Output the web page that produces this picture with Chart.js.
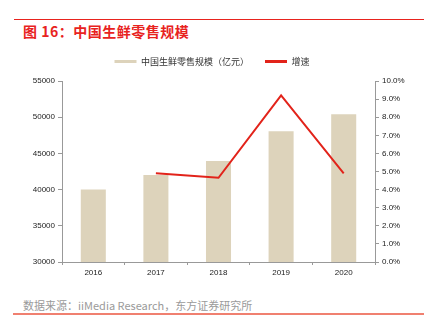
<!DOCTYPE html>
<html>
<head>
<meta charset="utf-8">
<script src="https://cdn.jsdelivr.net/npm/chart.js@4/dist/chart.umd.min.js"></script>
<style>
  body { margin: 0; width: 424px; height: 327px; background: #fff; position: relative; overflow: hidden;
         font-family: "Liberation Sans", "Noto Sans CJK SC", sans-serif; }
  #topline { position: absolute; left: 14px; top: 19px; width: 410px; height: 1px; background: #E8231E; }
  #title { position: absolute; left: 23px; top: 21px; font-size: 14px; font-weight: bold; color: #E8231E;
           font-family: "Noto Sans CJK SC", sans-serif; letter-spacing: 0.5px; }
  #source { position: absolute; left: 23px; top: 297px; font-size: 11px; color: #9a9a9a;
            font-family: "Noto Sans CJK SC", sans-serif; }
  #bottomline { position: absolute; left: 13px; top: 313px; width: 411px; height: 1.5px; background: #F08070; }
  #wrap { position: absolute; left: 0; top: 41px; width: 424px; height: 241px; }
</style>
</head>
<body>
<div id="topline"></div>
<div id="title">图 16：中国生鲜零售规模</div>
<div id="wrap"><canvas id="chart"></canvas></div>
<div id="source">数据来源：iiMedia Research，东方证券研究所</div>
<div id="bottomline"></div>
<script>
const years = ['2016', '2017', '2018', '2019', '2020'];
const retailScale = [40000, 42000, 43950, 48050, 50400];   // 亿元
const growthRate = [null, 4.9, 4.65, 9.2, 4.9];             // %
const leftTicks = [30000, 35000, 40000, 45000, 50000, 55000];

const tickFont = { family: 'Liberation Sans', size: 8 };

// extra room under the legend
const legendGap = {
  id: 'legendGap',
  beforeInit(chart) {
    const fit = chart.legend.fit;
    chart.legend.fit = function () { fit.call(this); this.height += 5; };
  }
};

new Chart(document.getElementById('chart'), {
  data: {
    labels: years,
    datasets: [
      {
        type: 'line',
        label: '增速',
        data: growthRate,
        yAxisID: 'yR',
        borderColor: '#E2231A',
        backgroundColor: '#E2231A',
        borderWidth: 2,
        pointRadius: 0,
        tension: 0,
        order: 0
      },
      {
        type: 'bar',
        label: '中国生鲜零售规模（亿元）',
        data: retailScale,
        yAxisID: 'yL',
        backgroundColor: '#DDD3BB',
        barPercentage: 0.4,
        categoryPercentage: 1,
        order: 1
      }
    ]
  },
  plugins: [legendGap],
  options: {
    responsive: true,
    maintainAspectRatio: false,
    animation: false,
    plugins: {
      tooltip: { enabled: false },
      legend: {
        position: 'top',
        reverse: true,
        labels: {
          font: { family: 'Noto Sans CJK SC', size: 9 },
          color: '#333',
          boxWidth: 22,
          boxHeight: 3,
          padding: 16,
          generateLabels: chart => {
            const items = Chart.defaults.plugins.legend.labels.generateLabels(chart);
            items.forEach(it => { if (it.text === '增速') it.lineWidth = 0; });
            return items;
          }
        }
      }
    },
    scales: {
      x: {
        grid: { display: true, drawOnChartArea: false, tickLength: 3, color: '#999' },
        border: { color: '#999' },
        ticks: { font: tickFont, color: '#222', padding: 3 },
        afterFit: s => { s.height = 20; }
      },
      yL: {
        position: 'left',
        min: 30000, max: 55000,
        afterBuildTicks: s => { s.ticks = leftTicks.map(v => ({ value: v })); },
        grid: { drawOnChartArea: false, tickLength: 4, color: '#999' },
        border: { color: '#999' },
        ticks: { font: tickFont, color: '#222', padding: 3, callback: v => String(v) },
        afterFit: s => { s.width = 62; }
      },
      yR: {
        position: 'right',
        min: 0, max: 10,
        grid: { drawOnChartArea: false, tickLength: 4, color: '#999' },
        border: { color: '#999' },
        ticks: { stepSize: 1, font: tickFont, color: '#222', padding: 3,
                 callback: v => v.toFixed(1) + '%' },
        afterFit: s => { s.width = 49; }
      }
    }
  }
});
</script>
</body>
</html>
